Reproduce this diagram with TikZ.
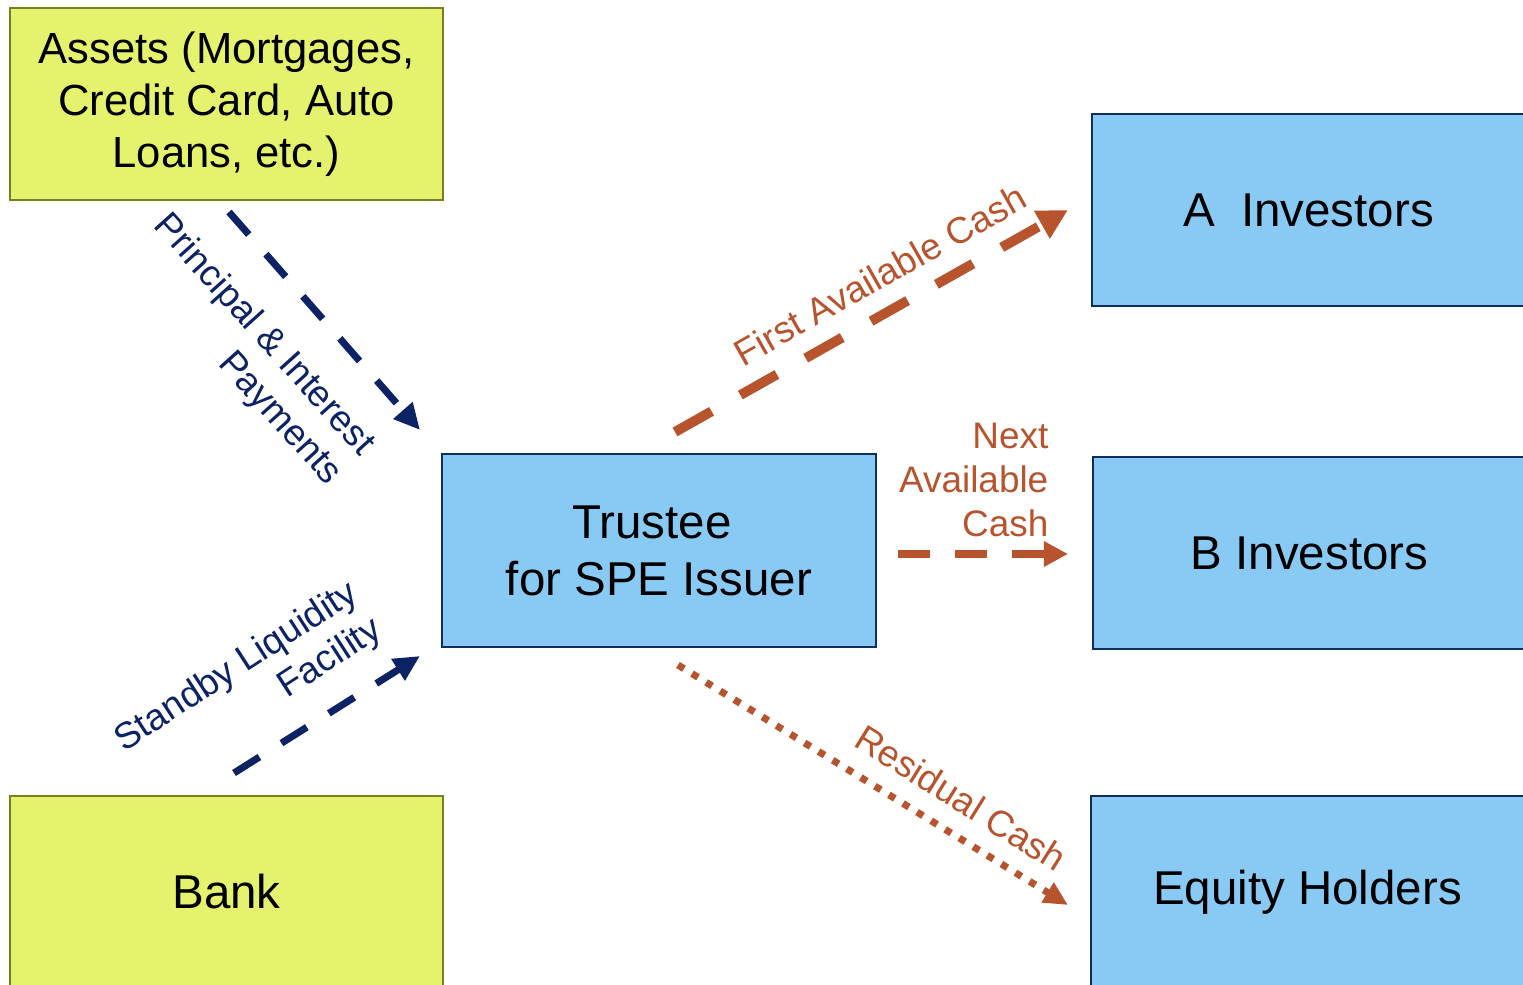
\documentclass[tikz,border=0pt]{standalone}
\usepackage{fontspec}
\setmainfont{Liberation Sans}
\usetikzlibrary{arrows.meta}
\definecolor{boxblue}{HTML}{89CAF5}
\definecolor{boxblueborder}{HTML}{0E2F5E}
\definecolor{boxyellow}{HTML}{E4F26E}
\definecolor{boxyellowborder}{HTML}{7A7F1E}
\definecolor{navyarrow}{HTML}{0B2265}
\definecolor{rust}{HTML}{B7542E}
\tikzset{
  bigbox/.style={draw, line width=0.6pt, minimum width=4.33cm, minimum height=1.92cm, inner sep=0pt, align=center,
    font={\fontsize{13.5}{16.2}\selectfont}},
  yellowbox/.style={bigbox, fill=boxyellow, draw=boxyellowborder},
  bluebox/.style={bigbox, fill=boxblue, draw=boxblueborder},
  navyflow/.style={draw=navyarrow, line width=2pt, dash pattern=on 0.30cm off 0.26cm,
    -{Triangle[length=0.26cm, width=0.24cm]}},
  rustflow/.style={draw=rust, line width=2.8pt, dash pattern=on 0.42cm off 0.33cm,
    -{Triangle[length=0.30cm, width=0.30cm]}},
  rustflowthin/.style={draw=rust, line width=2.4pt, dash pattern=on 0.32cm off 0.25cm,
    -{Triangle[length=0.24cm, width=0.24cm]}},
  rustdots/.style={draw=rust, line width=2pt, dash pattern=on 0.07cm off 0.095cm,
    -{Triangle[length=0.24cm, width=0.22cm]}},
  flowlabel/.style={inner sep=0pt, align=right, font={\fontsize{10.5}{12.5}\selectfont}},
}
\begin{document}
\begin{tikzpicture}[x=0.01cm, y=-0.01cm]
\useasboundingbox (0,0) rectangle (1523,985);

% boxes
\node[yellowbox, font={\fontsize{12.4}{14.8}\selectfont}] (assets) at (226.5,104) {Assets (Mortgages,\\Credit Card, Auto\\Loans, etc.)};
\node[yellowbox] (bank) at (226.5,892) {Bank};
\node[bluebox] (trustee) at (659,550.5) {Trustee\hspace*{0.14cm}\\for SPE Issuer};
\node[bluebox] (ainv) at (1308.5,210) {A\hspace{0.556em}Investors};
\node[bluebox] (binv) at (1309.5,553) {B Investors};
\node[bluebox] (equity) at (1307.5,892) {Equity Holders};

% connector end points
\coordinate (p1s) at (229,212);
\coordinate (p1e) at (420,430);
\coordinate (p2s) at (234,773);
\coordinate (p2e) at (420,656);
\coordinate (p3s) at (675,432);
\coordinate (p3e) at (1068,210);
\coordinate (p4s) at (898,554);
\coordinate (p4e) at (1068,554);
\coordinate (p5s) at (678,665);
\coordinate (p5e) at (1068,905);

% connectors
\draw[navyflow] (p1s) -- (p1e);
\draw[navyflow] (p2s) -- (p2e);
\draw[rustflow] (p3s) -- (p3e);
\draw[rustflowthin] (p4s) -- (p4e);
\draw[rustdots] (p5s) -- (p5e);

% labels
\node[flowlabel, text=navyarrow, rotate=-48] (lpi) at (247,350) {Principal \& Interest\\Payments};
\node[flowlabel, text=navyarrow, rotate=33] (lsl) at (249,686) {Standby Liquidity\\Facility};
\node[flowlabel, text=rust, rotate=29.5] (lfa) at (880,275) {First Available Cash};
\node[flowlabel, text=rust, anchor=east] (lna) at (1049,480) {Next\\Available\\Cash};
\node[flowlabel, text=rust, rotate=-32] (lrc) at (961,798) {Residual Cash};
\end{tikzpicture}
\end{document}
